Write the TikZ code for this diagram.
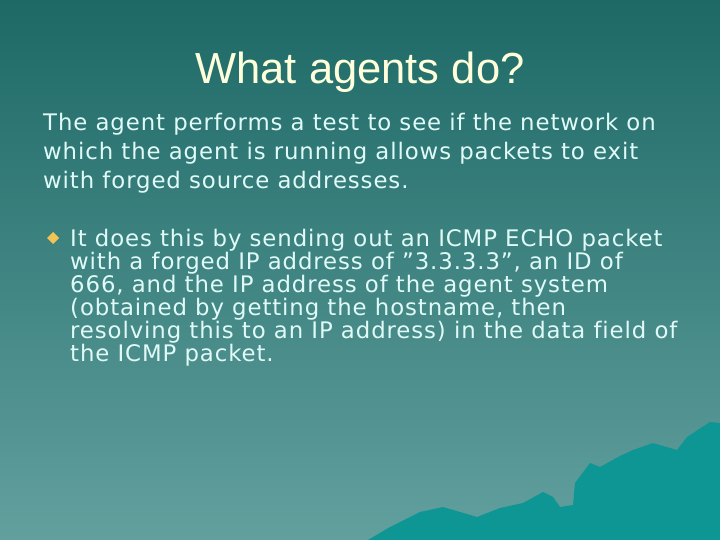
\documentclass[tikz,border=0pt]{standalone}
\usepackage{fontspec}
\setmainfont{DejaVu Sans}[LetterSpace=4,Ligatures=NoCommon]
\newfontfamily\titlefont{Liberation Sans}
\definecolor{bgtop}{HTML}{1D6966}
\definecolor{bgbot}{HTML}{62A09E}
\definecolor{mount}{HTML}{0E9694}
\definecolor{txt}{HTML}{E0FAF8}
\definecolor{ttl}{HTML}{FFFFDC}
\definecolor{bul}{HTML}{F2C456}
\begin{document}
\begin{tikzpicture}[x=1pt,y=-1pt,
  body/.style={anchor=base west,inner sep=0pt,text=txt,font=\fontsize{22.8}{24}\selectfont}]
\useasboundingbox (0,0) rectangle (720,540);
\shade[top color=bgtop,bottom color=bgbot] (0,0) rectangle (720,540);
\fill[mount] (368,540) -- (390,527) -- (420,512) -- (443,507) -- (460,512) -- (477,517) -- (500,508) -- (523,503) -- (543,492) -- (553,497) -- (560,507) -- (573,505) -- (575,483) -- (590,463) -- (600,467) -- (620,456) -- (633,450) -- (653,443) -- (677,450) -- (687,437) -- (710,422) -- (720,423) -- (720,540) -- cycle;
\node[anchor=base,inner sep=0pt,text=ttl,font=\titlefont\fontsize{43.5}{45}\selectfont] (title) at (360,84) {What agents do?};
\node[body] (p1) at (43,131) {The agent performs a test to see if the network on};
\node[body] (p2) at (43,160) {which the agent is running allows packets to exit};
\node[body] (p3) at (43,189) {with forged source addresses.};
\fill[bul] (53,232) -- (59,238) -- (53,244) -- (47,238) -- cycle;
\node[body] (b1) at (70,246) {It does this by sending out an ICMP ECHO packet};
\node[body] (b2) at (70,269) {with a forged IP address of \symbol{34}3.3.3.3\symbol{34}, an ID of};
\node[body] (b3) at (70,292) {666, and the IP address of the agent system};
\node[body] (b4) at (70,315) {(obtained by getting the hostname, then};
\node[body] (b5) at (70,338) {resolving this to an IP address) in the data field of};
\node[body] (b6) at (70,361) {the ICMP packet.};
\end{tikzpicture}
\end{document}
